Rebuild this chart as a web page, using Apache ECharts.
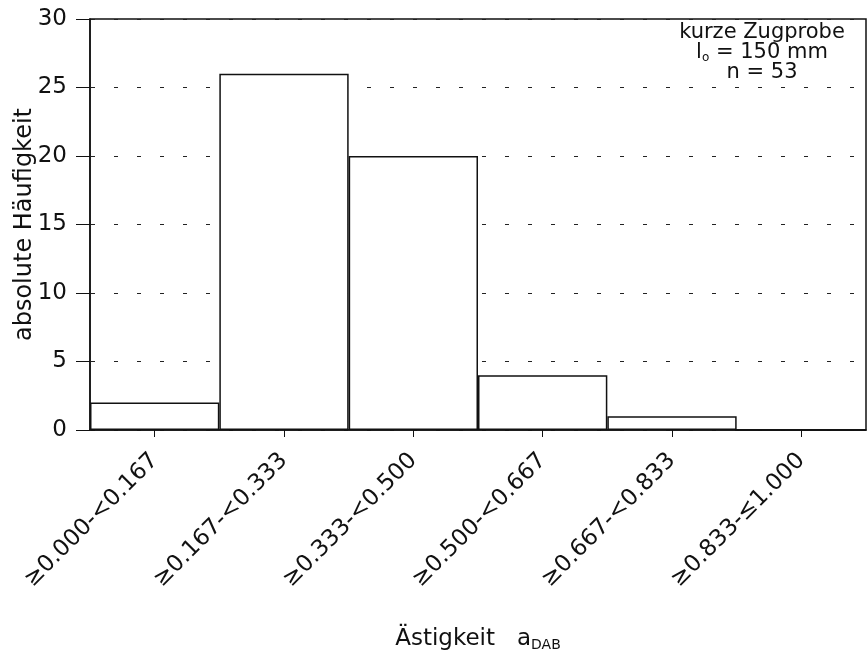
<!DOCTYPE html>
<html><head><meta charset="utf-8">
<script src="https://cdn.jsdelivr.net/npm/echarts@6/dist/echarts.min.js"></script>
<style>html,body{margin:0;padding:0;background:#fff}#c{width:868px;height:656px}</style>
</head><body><div id="c"></div>
<script>
const categories = ['≥0.000-<0.167','≥0.167-<0.333','≥0.333-<0.500','≥0.500-<0.667','≥0.667-<0.833','≥0.833-≤1.000'];
const counts = [2, 26, 20, 4, 1, 0];
const yTicks = {min: 0, max: 30, interval: 5};
const noteLines = ['kurze Zugprobe', 'l{sub|o} = 150 mm', 'n = 53'];

const FONT = '"DejaVu Sans", "Liberation Sans", Arial, sans-serif';
const chart = echarts.init(document.getElementById('c'), null, {renderer: 'canvas'});
chart.setOption({
  animation: false,
  backgroundColor: '#fff',
  grid: {left: 90, right: 2, top: 19, bottom: 226, containLabel: false, outerBoundsMode: 'none',
    show: true, borderColor: '#111', borderWidth: 1.5, backgroundColor: 'transparent'},
  xAxis: {
    type: 'category', data: categories,
    axisLine: {lineStyle: {color: '#111', width: 1.5}},
    axisTick: {show: true, alignWithLabel: true, length: 7, lineStyle: {color: '#111', width: 1}},
    axisLabel: {rotate: 45, margin: 27, color: '#111', fontSize: 23, fontFamily: FONT},
    name: 'Ästigkeit   a{sub|DAB}', nameLocation: 'middle', nameGap: 196, nameMoveOverlap: false,
    nameTextStyle: {color: '#111', fontSize: 23, fontFamily: FONT,
      rich: {sub: {fontSize: 14, fontFamily: FONT, color: '#111', padding: [12, 0, 0, 0]}}}
  },
  yAxis: {
    type: 'value', min: yTicks.min, max: yTicks.max, interval: yTicks.interval,
    axisLine: {show: true, lineStyle: {color: '#111', width: 1.5}},
    axisTick: {show: true, length: 14, lineStyle: {color: '#111', width: 1}},
    axisLabel: {margin: 23, color: '#111', fontSize: 23, fontFamily: FONT},
    splitLine: {show: true, lineStyle: {color: '#222', width: 1, type: [4, 19], dashOffset: 22}},
    name: 'absolute Häufigkeit', nameLocation: 'middle', nameGap: 53, nameRotate: 90, nameMoveOverlap: false,
    nameTextStyle: {color: '#111', fontSize: 24, fontFamily: FONT}
  },
  series: [{
    type: 'bar', data: counts, barCategoryGap: '0%',
    itemStyle: {color: '#fff', borderColor: '#111', borderWidth: 1.5}
  }],
  graphic: noteLines.map((t, i) => ({
    type: 'text', x: 762, y: 33 + i * 20,
    style: {text: t, fill: '#111', font: '21px ' + FONT, align: 'center', verticalAlign: 'middle',
      rich: {sub: {fontSize: 12, fontFamily: FONT, fill: '#111', padding: [9, 0, 0, 0]}}}
  }))
});
</script></body></html>
